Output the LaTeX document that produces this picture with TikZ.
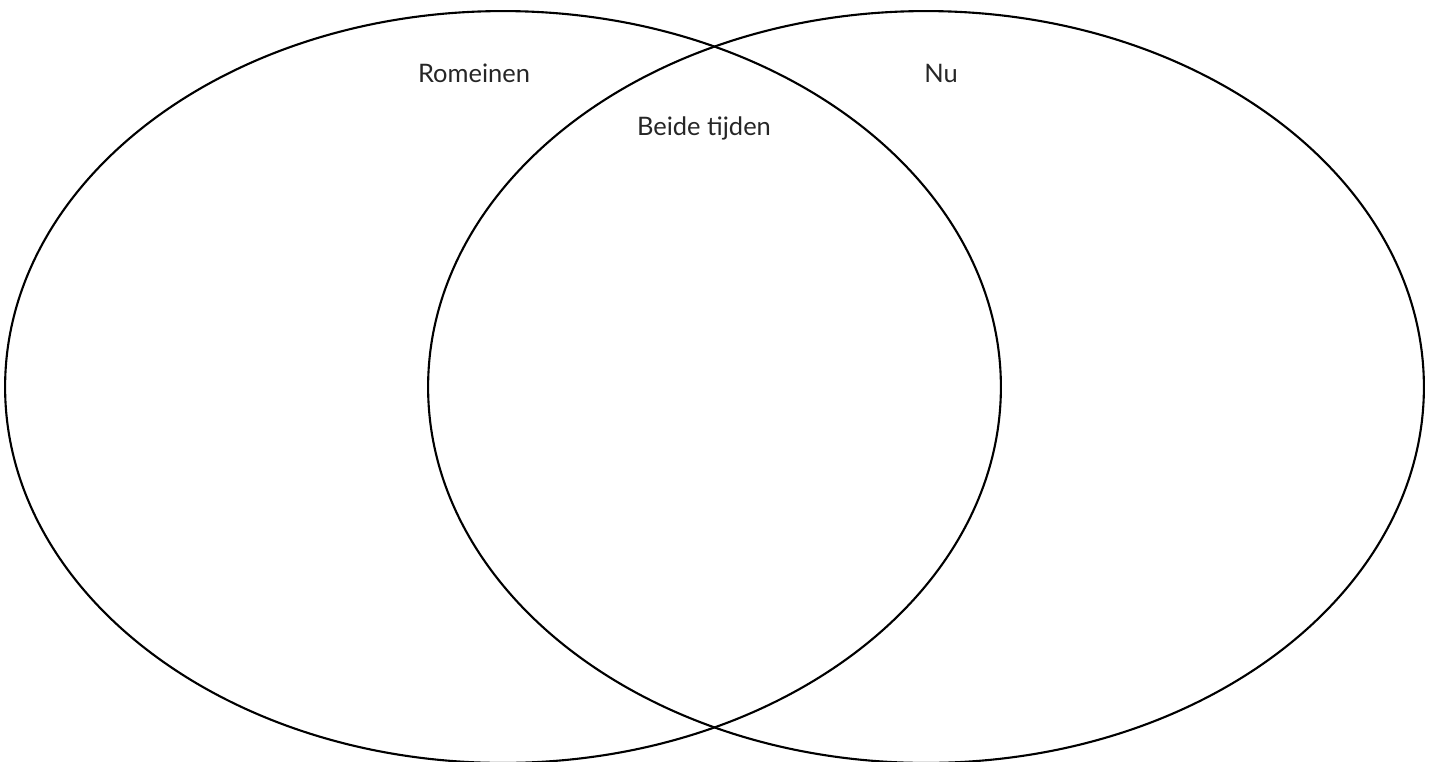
\documentclass[tikz,border=0pt]{standalone}
\usepackage{fontspec}
\setmainfont{Lato}
\usetikzlibrary{positioning, shapes.geometric}

\begin{document}
\begin{tikzpicture}[x=0.02cm, y=-0.02cm,
  set/.style = {draw, ellipse, line width=1.2pt, minimum width=19.92cm, minimum height=15.04cm, inner sep=0pt},
  lbl/.style = {text=black!85, font=\fontsize{14.5}{17}\selectfont, inner sep=0pt}]

\useasboundingbox (0,0) rectangle (1436,761);

%--- Sets ---
% left set
\node[set] (romeinen) at (503, 387) {};
% right set
\node[set] (nu) at (926, 387) {};

%--- Labels ---
\node[lbl] (l_romeinen) at (474, 73) {Romeinen};
\node[lbl] (l_nu) at (941, 73) {Nu};
\node[lbl] (l_beide) at (704, 128) {Beide tijden};

\end{tikzpicture}
\end{document}
